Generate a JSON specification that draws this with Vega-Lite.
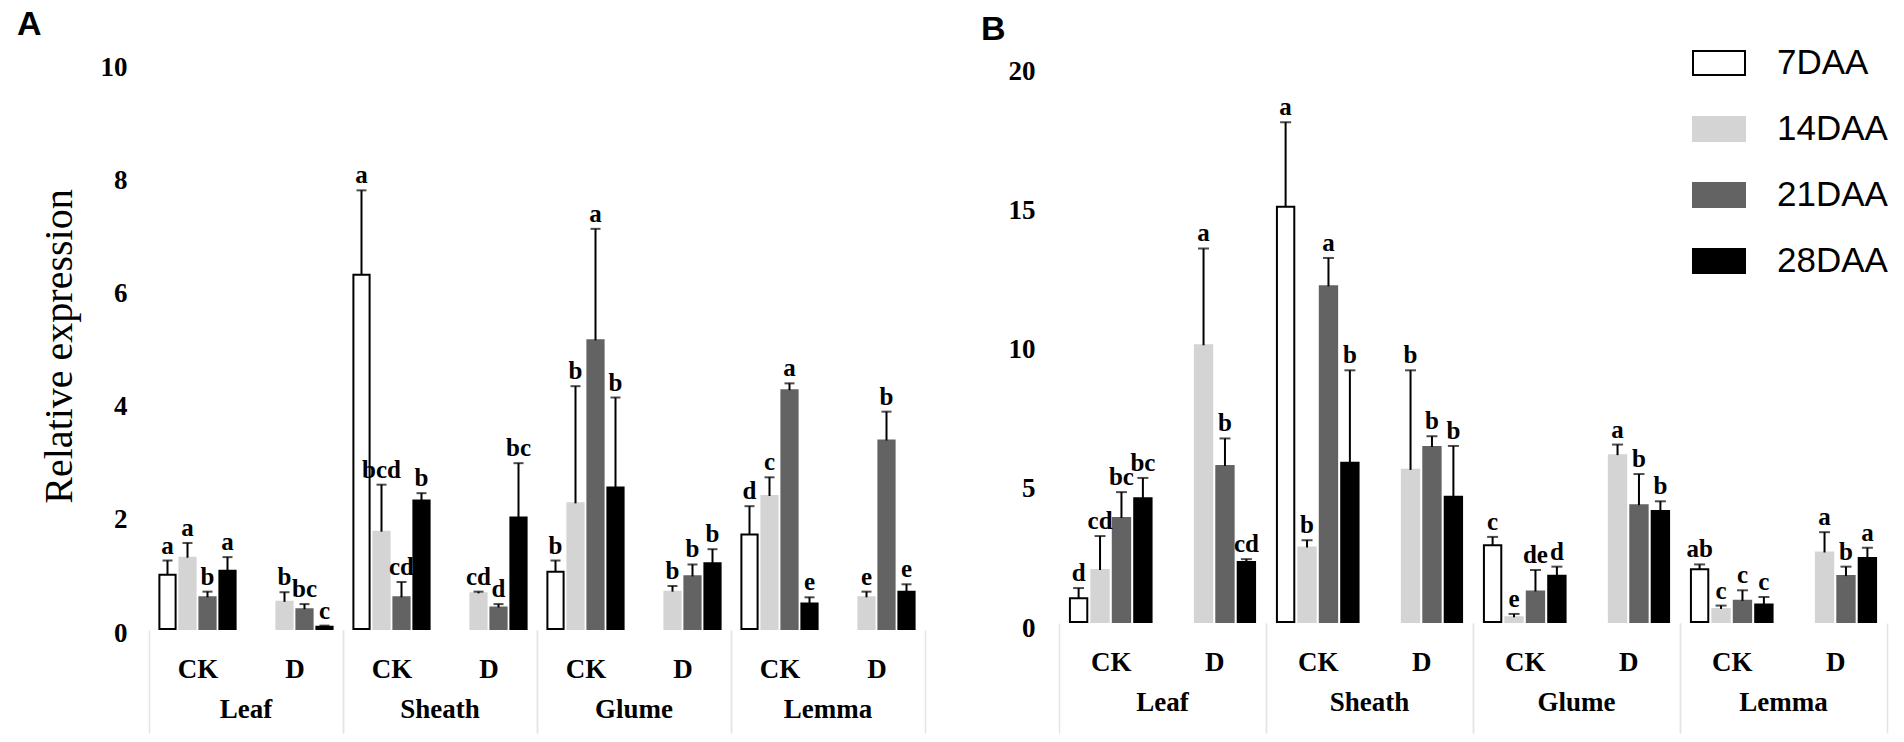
{
  "$schema": "https://vega.github.io/schema/vega-lite/v6.json",
  "autosize": {"type": "pad"},
  "padding": {"left": 17, "top": 8, "right": 10, "bottom": 5},
  "background": "white",
  "datasets": {
    "panelA": [
      {"tissue": "Leaf", "trt": "CK", "stage": "7DAA", "expr": 0.96, "upper": 1.21, "letter": "a"},
      {"tissue": "Leaf", "trt": "CK", "stage": "14DAA", "expr": 1.26, "upper": 1.52, "letter": "a"},
      {"tissue": "Leaf", "trt": "CK", "stage": "21DAA", "expr": 0.56, "upper": 0.66, "letter": "b"},
      {"tissue": "Leaf", "trt": "CK", "stage": "28DAA", "expr": 1.03, "upper": 1.27, "letter": "a"},
      {"tissue": "Leaf", "trt": "D", "stage": "14DAA", "expr": 0.48, "upper": 0.65, "letter": "b"},
      {"tissue": "Leaf", "trt": "D", "stage": "21DAA", "expr": 0.35, "upper": 0.44, "letter": "bc"},
      {"tissue": "Leaf", "trt": "D", "stage": "28DAA", "expr": 0.04, "upper": 0.06, "letter": "c"},
      {"tissue": "Sheath", "trt": "CK", "stage": "7DAA", "expr": 6.26, "upper": 7.75, "letter": "a"},
      {"tissue": "Sheath", "trt": "CK", "stage": "14DAA", "expr": 1.72, "upper": 2.55, "letter": "bcd"},
      {"tissue": "Sheath", "trt": "CK", "stage": "21DAA", "expr": 0.56, "upper": 0.83, "letter": "cd"},
      {"tissue": "Sheath", "trt": "CK", "stage": "28DAA", "expr": 2.27, "upper": 2.4, "letter": "b"},
      {"tissue": "Sheath", "trt": "D", "stage": "14DAA", "expr": 0.63, "upper": 0.66, "letter": "cd"},
      {"tissue": "Sheath", "trt": "D", "stage": "21DAA", "expr": 0.38, "upper": 0.44, "letter": "d"},
      {"tissue": "Sheath", "trt": "D", "stage": "28DAA", "expr": 1.97, "upper": 2.93, "letter": "bc"},
      {"tissue": "Glume", "trt": "CK", "stage": "7DAA", "expr": 1.01, "upper": 1.21, "letter": "b"},
      {"tissue": "Glume", "trt": "CK", "stage": "14DAA", "expr": 2.22, "upper": 4.29, "letter": "b"},
      {"tissue": "Glume", "trt": "CK", "stage": "21DAA", "expr": 5.1, "upper": 7.07, "letter": "a"},
      {"tissue": "Glume", "trt": "CK", "stage": "28DAA", "expr": 2.5, "upper": 4.09, "letter": "b"},
      {"tissue": "Glume", "trt": "D", "stage": "14DAA", "expr": 0.66, "upper": 0.76, "letter": "b"},
      {"tissue": "Glume", "trt": "D", "stage": "21DAA", "expr": 0.93, "upper": 1.14, "letter": "b"},
      {"tissue": "Glume", "trt": "D", "stage": "28DAA", "expr": 1.16, "upper": 1.41, "letter": "b"},
      {"tissue": "Lemma", "trt": "CK", "stage": "7DAA", "expr": 1.67, "upper": 2.17, "letter": "d"},
      {"tissue": "Lemma", "trt": "CK", "stage": "14DAA", "expr": 2.35, "upper": 2.68, "letter": "c"},
      {"tissue": "Lemma", "trt": "CK", "stage": "21DAA", "expr": 4.22, "upper": 4.34, "letter": "a"},
      {"tissue": "Lemma", "trt": "CK", "stage": "28DAA", "expr": 0.45, "upper": 0.56, "letter": "e"},
      {"tissue": "Lemma", "trt": "D", "stage": "14DAA", "expr": 0.56, "upper": 0.66, "letter": "e"},
      {"tissue": "Lemma", "trt": "D", "stage": "21DAA", "expr": 3.33, "upper": 3.84, "letter": "b"},
      {"tissue": "Lemma", "trt": "D", "stage": "28DAA", "expr": 0.66, "upper": 0.79, "letter": "e"}
    ],
    "panelB": [
      {"tissue": "Leaf", "trt": "CK", "stage": "7DAA", "expr": 0.85, "upper": 1.22, "letter": "d"},
      {"tissue": "Leaf", "trt": "CK", "stage": "14DAA", "expr": 1.87, "upper": 3.09, "letter": "cd"},
      {"tissue": "Leaf", "trt": "CK", "stage": "21DAA", "expr": 3.74, "upper": 4.67, "letter": "bc"},
      {"tissue": "Leaf", "trt": "CK", "stage": "28DAA", "expr": 4.45, "upper": 5.18, "letter": "bc"},
      {"tissue": "Leaf", "trt": "D", "stage": "14DAA", "expr": 9.95, "upper": 13.43, "letter": "a"},
      {"tissue": "Leaf", "trt": "D", "stage": "21DAA", "expr": 5.61, "upper": 6.6, "letter": "b"},
      {"tissue": "Leaf", "trt": "D", "stage": "28DAA", "expr": 2.16, "upper": 2.26, "letter": "cd"},
      {"tissue": "Sheath", "trt": "CK", "stage": "7DAA", "expr": 14.93, "upper": 17.97, "letter": "a"},
      {"tissue": "Sheath", "trt": "CK", "stage": "14DAA", "expr": 2.68, "upper": 2.94, "letter": "b"},
      {"tissue": "Sheath", "trt": "CK", "stage": "21DAA", "expr": 12.07, "upper": 13.09, "letter": "a"},
      {"tissue": "Sheath", "trt": "CK", "stage": "28DAA", "expr": 5.73, "upper": 9.05, "letter": "b"},
      {"tissue": "Sheath", "trt": "D", "stage": "14DAA", "expr": 5.47, "upper": 9.05, "letter": "b"},
      {"tissue": "Sheath", "trt": "D", "stage": "21DAA", "expr": 6.29, "upper": 6.68, "letter": "b"},
      {"tissue": "Sheath", "trt": "D", "stage": "28DAA", "expr": 4.5, "upper": 6.33, "letter": "b"},
      {"tissue": "Glume", "trt": "CK", "stage": "7DAA", "expr": 2.76, "upper": 3.06, "letter": "c"},
      {"tissue": "Glume", "trt": "CK", "stage": "14DAA", "expr": 0.17, "upper": 0.29, "letter": "e"},
      {"tissue": "Glume", "trt": "CK", "stage": "21DAA", "expr": 1.1, "upper": 1.87, "letter": "de"},
      {"tissue": "Glume", "trt": "CK", "stage": "28DAA", "expr": 1.66, "upper": 1.99, "letter": "d"},
      {"tissue": "Glume", "trt": "D", "stage": "14DAA", "expr": 6.0, "upper": 6.38, "letter": "a"},
      {"tissue": "Glume", "trt": "D", "stage": "21DAA", "expr": 4.2, "upper": 5.32, "letter": "b"},
      {"tissue": "Glume", "trt": "D", "stage": "28DAA", "expr": 3.99, "upper": 4.34, "letter": "b"},
      {"tissue": "Lemma", "trt": "CK", "stage": "7DAA", "expr": 1.9, "upper": 2.07, "letter": "ab"},
      {"tissue": "Lemma", "trt": "CK", "stage": "14DAA", "expr": 0.47, "upper": 0.59, "letter": "c"},
      {"tissue": "Lemma", "trt": "CK", "stage": "21DAA", "expr": 0.76, "upper": 1.14, "letter": "c"},
      {"tissue": "Lemma", "trt": "CK", "stage": "28DAA", "expr": 0.63, "upper": 0.9, "letter": "c"},
      {"tissue": "Lemma", "trt": "D", "stage": "14DAA", "expr": 2.5, "upper": 3.23, "letter": "a"},
      {"tissue": "Lemma", "trt": "D", "stage": "21DAA", "expr": 1.65, "upper": 1.99, "letter": "b"},
      {"tissue": "Lemma", "trt": "D", "stage": "28DAA", "expr": 2.3, "upper": 2.67, "letter": "a"}
    ]
  },
  "hconcat": [
    {
      "data": {"name": "panelA"},
      "title": {"text": "A", "anchor": "start", "frame": "bounds", "font": "Liberation Sans", "fontSize": 34, "fontWeight": "bold", "color": "black", "dx": -22, "offset": 11},
      "spacing": 0,
      "facet": {
        "column": {
          "field": "tissue", "type": "nominal", "sort": ["Leaf", "Sheath", "Glume", "Lemma"],
          "header": {"title": null, "labelOrient": "bottom", "labelFont": "Liberation Serif", "labelFontWeight": "bold", "labelFontSize": 27, "labelColor": "black", "labelPadding": -37}
        }
      },
      "spec": {
        "width": 194,
        "height": 566,
        "encoding": {
          "x": {
            "field": "trt", "type": "nominal", "sort": ["CK", "D"],
            "scale": {"paddingInner": 0, "paddingOuter": 0},
            "axis": {
              "title": null, "labelAngle": 0, "domain": false, "tickBand": "extent", "tickSize": 103, "tickWidth": 1.5,
              "tickColor": {"condition": {"test": "datum.value === 'D' || datum.extra", "value": "#e4e4e4"}, "value": "transparent"},
              "labelPadding": -77, "labelFont": "Liberation Serif", "labelFontWeight": "bold", "labelFontSize": 27, "labelColor": "black"
            }
          },
          "xOffset": {"field": "stage", "type": "nominal", "sort": ["7DAA", "14DAA", "21DAA", "28DAA"], "scale": {"paddingInner": 0.19, "paddingOuter": 0.52}}
        },
        "layer": [
          {
            "mark": {"type": "bar", "strokeWidth": 2},
            "encoding": {
              "y": {
                "field": "expr", "type": "quantitative", "title": "Relative expression",
                "scale": {"domain": [0, 10], "nice": false},
                "axis": {"values": [0, 2, 4, 6, 8, 10], "format": "d", "domain": false, "ticks": false, "grid": false, "labelPadding": 22, "labelOffset": 4,
                  "labelFont": "Liberation Serif", "labelFontWeight": "bold", "labelFontSize": 27, "labelColor": "black",
                  "titleFont": "Liberation Serif", "titleFontWeight": "normal", "titleFontSize": 40, "titleColor": "black", "titlePadding": 21}
              },
              "fill": {"field": "stage", "type": "nominal", "title": null, "scale": {"domain": ["7DAA", "14DAA", "21DAA", "28DAA"], "range": ["#ffffff", "#d4d4d4", "#636363", "#000000"]}},
              "stroke": {"field": "stage", "type": "nominal", "title": null, "scale": {"domain": ["7DAA", "14DAA", "21DAA", "28DAA"], "range": ["#000000", "#d4d4d4", "#636363", "#000000"]}}
            }
          },
          {
            "mark": {"type": "rule", "strokeWidth": 2, "color": "black"},
            "encoding": {"y": {"field": "expr", "type": "quantitative", "title": "Relative expression"}, "y2": {"field": "upper"}}
          },
          {
            "mark": {"type": "tick", "thickness": 2, "size": 10, "color": "black"},
            "encoding": {"y": {"field": "upper", "type": "quantitative", "title": "Relative expression"}}
          },
          {
            "mark": {"type": "text", "baseline": "bottom", "dy": -2, "font": "Liberation Serif", "fontWeight": "bold", "fontSize": 25, "color": "black"},
            "encoding": {"y": {"field": "upper", "type": "quantitative", "title": "Relative expression"}, "text": {"field": "letter"}}
          }
        ]
      }
    },
    {
      "data": {"name": "panelB"},
      "title": {"text": "B", "anchor": "start", "frame": "bounds", "font": "Liberation Sans", "fontSize": 34, "fontWeight": "bold", "color": "black", "dx": -27, "offset": 11},
      "spacing": 0,
      "facet": {
        "column": {
          "field": "tissue", "type": "nominal", "sort": ["Leaf", "Sheath", "Glume", "Lemma"],
          "header": {"title": null, "labelOrient": "bottom", "labelFont": "Liberation Serif", "labelFontWeight": "bold", "labelFontSize": 27, "labelColor": "black", "labelPadding": -44}
        }
      },
      "spec": {
        "width": 207,
        "height": 559,
        "encoding": {
          "x": {
            "field": "trt", "type": "nominal", "sort": ["CK", "D"],
            "scale": {"paddingInner": 0, "paddingOuter": 0},
            "axis": {
              "title": null, "labelAngle": 0, "domain": false, "tickBand": "extent", "tickSize": 110, "tickWidth": 1.5,
              "tickColor": {"condition": {"test": "datum.value === 'D' || datum.extra", "value": "#e4e4e4"}, "value": "transparent"},
              "labelPadding": -84, "labelFont": "Liberation Serif", "labelFontWeight": "bold", "labelFontSize": 27, "labelColor": "black"
            }
          },
          "xOffset": {"field": "stage", "type": "nominal", "sort": ["7DAA", "14DAA", "21DAA", "28DAA"], "scale": {"paddingInner": 0.19, "paddingOuter": 0.51}}
        },
        "layer": [
          {
            "mark": {"type": "bar", "strokeWidth": 2},
            "encoding": {
              "y": {
                "field": "expr", "type": "quantitative", "title": null,
                "scale": {"domain": [0, 20.1], "nice": false},
                "axis": {"values": [0, 5, 10, 15, 20], "format": "d", "domain": false, "ticks": false, "grid": false, "labelPadding": 24, "labelOffset": 6,
                  "labelFont": "Liberation Serif", "labelFontWeight": "bold", "labelFontSize": 27, "labelColor": "black"}
              },
              "fill": {"field": "stage", "type": "nominal", "title": null, "scale": {"domain": ["7DAA", "14DAA", "21DAA", "28DAA"], "range": ["#ffffff", "#d4d4d4", "#636363", "#000000"]}},
              "stroke": {"field": "stage", "type": "nominal", "title": null, "scale": {"domain": ["7DAA", "14DAA", "21DAA", "28DAA"], "range": ["#000000", "#d4d4d4", "#636363", "#000000"]}}
            }
          },
          {
            "mark": {"type": "rule", "strokeWidth": 2, "color": "black"},
            "encoding": {"y": {"field": "expr", "type": "quantitative", "title": null}, "y2": {"field": "upper"}}
          },
          {
            "mark": {"type": "tick", "thickness": 2, "size": 11, "color": "black"},
            "encoding": {"y": {"field": "upper", "type": "quantitative", "title": null}}
          },
          {
            "mark": {"type": "text", "baseline": "bottom", "dy": -2, "font": "Liberation Serif", "fontWeight": "bold", "fontSize": 25, "color": "black"},
            "encoding": {"y": {"field": "upper", "type": "quantitative", "title": null}, "text": {"field": "letter"}}
          }
        ]
      }
    }
  ],
  "spacing": 55,
  "resolve": {"scale": {"x": "independent", "y": "independent", "xOffset": "independent", "fill": "shared", "stroke": "shared"}},
  "config": {
    "view": {"stroke": null},
    "legend": {
      "orient": "none", "legendX": 1543, "legendY": -27, "padding": 0,
      "symbolType": "M-1,-0.46H1V0.46H-1Z", "symbolSize": 2704, "symbolStrokeWidth": 2,
      "labelFont": "Liberation Sans", "labelFontSize": 35, "labelColor": "black", "labelOffset": 31, "rowPadding": 21
    }
  }
}
